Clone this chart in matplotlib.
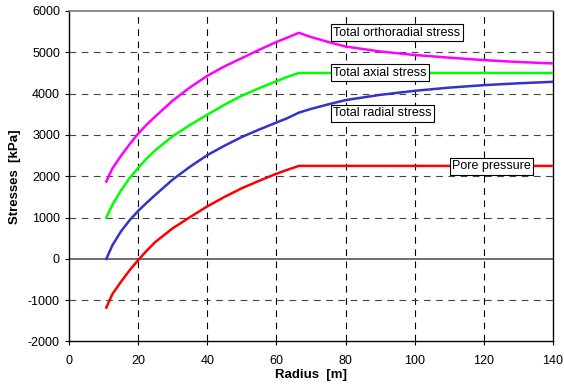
import matplotlib
matplotlib.use("Agg")
import matplotlib.pyplot as plt

plt.rcParams['font.family'] = ['Liberation Sans', 'DejaVu Sans']
plt.rcParams['axes.unicode_minus'] = False

# Radius values [m]
radius = [10.8, 12.5, 15, 17.5, 20, 22.5, 25, 30, 35, 40, 45, 50, 55, 60, 63, 66.5,
          70, 75, 80, 90, 100, 110, 120, 130, 140]

# Stresses [kPa]
orthoradial = [1870, 2180, 2490, 2770, 3030, 3250, 3450, 3830, 4150, 4430, 4660, 4860, 5060, 5250, 5350, 5472,
               5370, 5250, 5140, 5020, 4935, 4870, 4811, 4765, 4731]
axial = [1000, 1300, 1650, 1950, 2200, 2430, 2630, 2970, 3240, 3490, 3730, 3950, 4130, 4300, 4400, 4500,
         4500, 4500, 4500, 4500, 4500, 4500, 4500, 4500, 4500]
radial = [0, 320, 660, 930, 1160, 1360, 1550, 1920, 2230, 2510, 2740, 2950, 3130, 3300, 3400, 3540,
          3630, 3740, 3843, 3970, 4068, 4145, 4205, 4250, 4286]
pore = [-1180, -860, -560, -280, -30, 200, 410, 740, 1010, 1270, 1500, 1710, 1890, 2060, 2150, 2250,
        2250, 2250, 2250, 2250, 2250, 2250, 2250, 2250, 2250]

xticks = [0, 20, 40, 60, 80, 100, 120, 140]
yticks = [-2000, -1000, 0, 1000, 2000, 3000, 4000, 5000, 6000]

fig = plt.figure(figsize=(5.64, 3.90), dpi=100)
ax = fig.add_axes([0.1223, 0.1244, 0.8582, 0.8474])

ax.set_xlim(0, 140)
ax.set_ylim(-2000, 6000)
ax.set_xticks(xticks)
ax.set_yticks(yticks)

# grid
for x in xticks[1:-1]:
    ax.axvline(x, color='black', lw=0.8, ls=(0, (6, 5)), zorder=1)
for y in yticks[1:-1]:
    if y == 0:
        ax.axhline(y, color='#555555', lw=1.2, zorder=1)
    else:
        ax.axhline(y, color='#444444', lw=0.8, ls=(0, (6, 5)), zorder=1)

ax.plot(radius, orthoradial, color='#FF00FF', lw=1.8, zorder=3)
ax.plot(radius, axial, color='#00FF00', lw=1.8, zorder=3)
ax.plot(radius, radial, color='#3333CC', lw=1.8, zorder=3)
ax.plot(radius, pore, color='#FF0000', lw=1.8, zorder=3)

bbox = dict(boxstyle='square,pad=0.2', fc='white', ec='black', lw=0.8)
ax.text(76.5, 5478, 'Total orthoradial stress', fontsize=9, va='center', ha='left', bbox=bbox, zorder=4)
ax.text(76.5, 4504, 'Total axial stress', fontsize=9, va='center', ha='left', bbox=bbox, zorder=4)
ax.text(76.5, 3528, 'Total radial stress', fontsize=9, va='center', ha='left', bbox=bbox, zorder=4)
ax.text(110.8, 2237, 'Pore pressure', fontsize=9, va='center', ha='left', bbox=bbox, zorder=4)

for s in ['left', 'bottom', 'right']:
    ax.spines[s].set_color('black')
    ax.spines[s].set_linewidth(1.0)
ax.spines['top'].set_color('#777777')
ax.spines['top'].set_linewidth(1.2)

ax.tick_params(axis='both', direction='out', length=3, width=0.8, labelsize=9, colors='black')
ax.tick_params(axis='x', pad=7)
ax.set_xlabel('Radius  [m]', fontsize=9.5, fontweight='bold', labelpad=1)
ax.set_ylabel('Stresses  [kPa]', fontsize=9.5, fontweight='bold', labelpad=5)

fig.savefig('out.png', dpi=100)
